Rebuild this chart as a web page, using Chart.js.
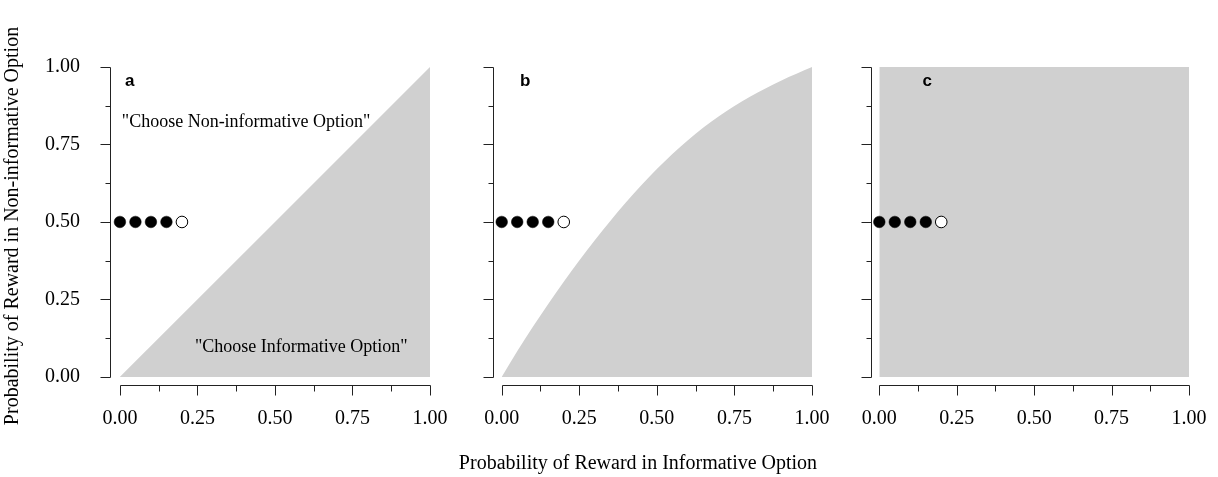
<!DOCTYPE html>
<html><head><meta charset="utf-8">
<script src="https://cdn.jsdelivr.net/npm/chart.js@4.4.1/dist/chart.umd.min.js"></script>
<style>
html,body{margin:0;padding:0;background:#fff;width:1218px;height:477px;overflow:hidden;position:relative;}
canvas{position:absolute;top:0;}
#xtitle{position:absolute;left:338px;width:600px;top:450px;text-align:center;font-family:'Liberation Serif','Times New Roman',serif;font-size:20px;line-height:24px;color:#000;white-space:nowrap;}
</style></head><body>
<canvas id="ca" width="470" height="477" style="left:0px"></canvas>
<canvas id="cb" width="391" height="477" style="left:461px"></canvas>
<canvas id="cc" width="390" height="477" style="left:839px"></canvas>
<div id="xtitle">Probability of Reward in Informative Option</div>
<script>
// ---- data ----
const majorTicks = [0, 0.25, 0.5, 0.75, 1];
const minorTicks = [0.125, 0.375, 0.625, 0.875];
const tickLabels = ['0.00', '0.25', '0.50', '0.75', '1.00'];
const pointX = [0, 0.05, 0.10, 0.15, 0.20];
const pointY = [0.5, 0.5, 0.5, 0.5, 0.5];
const pointFilled = [true, true, true, true, false];
const boundaryAX = [0, 1];
const boundaryAY = [0, 1];
const boundaryBX = [0, 0.05, 0.10, 0.20, 0.30, 0.40, 0.50, 0.60, 0.70, 0.80, 0.90, 1.00];
const boundaryBY = [0, 0.083, 0.161, 0.307, 0.441, 0.563, 0.671, 0.764, 0.841, 0.904, 0.956, 1.0];
const boundaryCX = [0, 1];
const boundaryCY = [1, 1];
const panelLetters = ['a', 'b', 'c'];
const yTitle = 'Probability of Reward in Non-informative Option';
const noteTop = '"Choose Non-informative Option"';
const noteBottom = '"Choose Informative Option"';

const SERIF = "'Liberation Serif','Times New Roman',serif";
const SANS = "'Liberation Sans',Arial,sans-serif";
const FILL = '#d0d0d0';
const AXIS = '#222';

const axesPlugin = {
  id: 'rAxes',
  afterDatasetsDraw(chart, args, opts) {
    const {ctx, scales: {x, y}} = chart;
    ctx.save();
    ctx.fillStyle = '#000';
    ctx.textBaseline = 'alphabetic';
    ctx.textAlign = 'center';
    ctx.font = 'bold 17px ' + SANS;
    ctx.fillText(opts.letter, x.getPixelForValue(opts.lx), y.getPixelForValue(opts.ly));
    ctx.font = '18px ' + SERIF;
    ctx.textAlign = 'left';
    (opts.notes || []).forEach(n => {
      ctx.fillText(n.text, x.getPixelForValue(n.x), y.getPixelForValue(n.y));
    });
    ctx.restore();
  },
  afterDraw(chart) {
    const {ctx, chartArea, scales: {x, y}} = chart;
    ctx.save();
    ctx.strokeStyle = AXIS;
    ctx.lineWidth = 1;
    ctx.beginPath();
    const yb = Math.round(chartArea.bottom) + 0.5;
    ctx.moveTo(Math.round(x.getPixelForValue(0)) + 0.5, yb);
    ctx.lineTo(Math.round(x.getPixelForValue(1)) + 0.5, yb);
    majorTicks.forEach(v => { const p = Math.round(x.getPixelForValue(v)) + 0.5; ctx.moveTo(p, yb); ctx.lineTo(p, yb + 10); });
    minorTicks.forEach(v => { const p = Math.round(x.getPixelForValue(v)) + 0.5; ctx.moveTo(p, yb); ctx.lineTo(p, yb + 6); });
    const xl = Math.round(chartArea.left) + 0.5;
    ctx.moveTo(xl, Math.round(y.getPixelForValue(0)) + 0.5);
    ctx.lineTo(xl, Math.round(y.getPixelForValue(1)) + 0.5);
    majorTicks.forEach(v => { const p = Math.round(y.getPixelForValue(v)) + 0.5; ctx.moveTo(xl, p); ctx.lineTo(xl - 10, p); });
    minorTicks.forEach(v => { const p = Math.round(y.getPixelForValue(v)) + 0.5; ctx.moveTo(xl, p); ctx.lineTo(xl - 5, p); });
    ctx.stroke();
    ctx.restore();
  }
};

function makePanel(cfg) {
  const fillData = cfg.bx.map((v, i) => ({x: v, y: cfg.by[i]}));
  const ptsData = pointX.map((v, i) => ({x: v, y: pointY[i]}));
  return new Chart(document.getElementById(cfg.id), {
    type: 'scatter',
    data: {datasets: [
      {type: 'scatter', data: ptsData, order: 0, pointRadius: 5.8, pointHoverRadius: 5.8,
       pointBackgroundColor: pointFilled.map(f => f ? '#000' : '#fff'),
       pointBorderColor: '#000', pointBorderWidth: pointFilled.map(f => f ? 0.5 : 1)},
      {type: 'line', data: fillData, order: 1, showLine: true, borderWidth: 0,
       borderColor: 'rgba(0,0,0,0)', backgroundColor: FILL, fill: 'origin', pointRadius: 0,
       cubicInterpolationMode: 'monotone'}
    ]},
    options: {
      responsive: false, animation: false, devicePixelRatio: 1, events: [],
      layout: {padding: {left: cfg.padLeft, right: cfg.padRight, top: 67, bottom: 42}},
      plugins: {legend: {display: false}, tooltip: {enabled: false},
        rAxes: {letter: cfg.letter, lx: cfg.lx, ly: 0.939, notes: cfg.notes}},
      scales: {
        x: {type: 'linear', min: cfg.xMin, max: 1,
          afterBuildTicks: s => { s.ticks = majorTicks.map(v => ({value: v})); },
          afterFit: s => { s.height = 50; },
          grid: {display: false, drawTicks: false}, border: {display: false},
          ticks: {padding: 22, color: '#000', font: {family: SERIF, size: 20}, maxRotation: 0, autoSkip: false,
            callback: (v, i) => tickLabels[i]}},
        y: {type: 'linear', min: -0.026, max: 1, display: cfg.showY,
          afterBuildTicks: s => { s.ticks = majorTicks.map(v => ({value: v})); },
          afterFit: s => { s.width = cfg.showY ? 110 : 0; },
          grid: {display: false, drawTicks: false}, border: {display: false},
          title: {display: cfg.showY, text: yTitle, color: '#000', font: {family: SERIF, size: 20}, padding: {top: 1, bottom: 0}},
          ticks: {display: cfg.showY, padding: 30, color: '#000', font: {family: SERIF, size: 20}, autoSkip: false,
            callback: (v, i) => tickLabels[i]}}
      }
    },
    plugins: [axesPlugin]
  });
}

makePanel({id: 'ca', bx: boundaryAX, by: boundaryAY, xMin: -0.032, padLeft: 0, padRight: 40, showY: true,
  letter: panelLetters[0], lx: 0.032,
  notes: [{text: noteTop, x: 0.006, y: 0.806}, {text: noteBottom, x: 0.242, y: 0.081}]});
makePanel({id: 'cb', bx: boundaryBX, by: boundaryBY, xMin: -0.028, padLeft: 32, padRight: 40, showY: false,
  letter: panelLetters[1], lx: 0.076, notes: []});
makePanel({id: 'cc', bx: boundaryCX, by: boundaryCY, xMin: -0.026, padLeft: 32, padRight: 40, showY: false,
  letter: panelLetters[2], lx: 0.155, notes: []});
</script>
</body></html>
